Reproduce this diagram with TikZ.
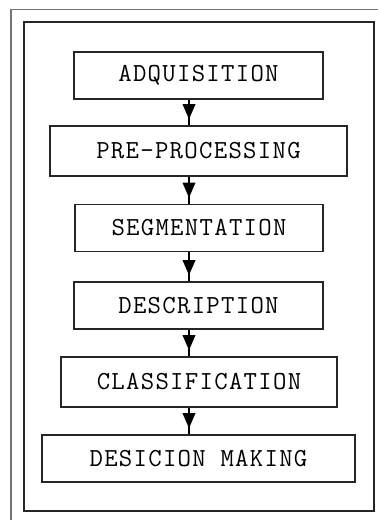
\documentclass[tikz,border=0pt]{standalone}
\usepackage{fontspec}
\newfontfamily\stagefont{Latin Modern Mono}[LetterSpace=5]
\usetikzlibrary{calc}
\begin{document}
\begin{tikzpicture}[x=1pt,y=-1pt,
  stage/.style={draw=black!85, line width=1.6pt, rectangle, inner sep=0pt,
    font=\stagefont\fontsize{26}{30}\selectfont},
  link/.style={draw=black, line width=2pt},
  head/.style={fill=black}]
\useasboundingbox (0,0) rectangle (378,520);
% outer and inner frames
\draw[black!55, line width=1.2pt] (11,520) -- (11,9.5) -- (378,9.5);
\draw[black!85, line width=1.6pt] (24,22) rectangle (374,511);
% stages
\node[stage, minimum width=249pt, minimum height=47pt] (a) at (198.5,75.5) {ADQUISITION};
\node[stage, minimum width=297pt, minimum height=50pt] (b) at (198.5,151) {PRE-PROCESSING};
\node[stage, minimum width=248pt, minimum height=47pt] (c) at (199,228) {SEGMENTATION};
\node[stage, minimum width=249pt, minimum height=47pt] (d) at (198.5,305.5) {DESCRIPTION};
\node[stage, minimum width=276pt, minimum height=50pt] (e) at (199,382) {CLASSIFICATION};
\node[stage, minimum width=313pt, minimum height=47pt] (f) at (198.5,458.5) {DESICION MAKING};
\coordinate (axis) at (189,0);
% connectors with a dark triangle near the lower box
\foreach \u/\v in {a/b,b/c,c/d,d/e,e/f}{
  \draw[link] (\u.south -| axis) -- (\v.north -| axis);
  \fill[head] ($(\v.north -| axis)+(-6.5,-21)$) -- ($(\v.north -| axis)+(6.5,-21)$)
    -- ($(\v.north -| axis)+(0,-6)$) -- cycle;
}
\end{tikzpicture}
\end{document}
